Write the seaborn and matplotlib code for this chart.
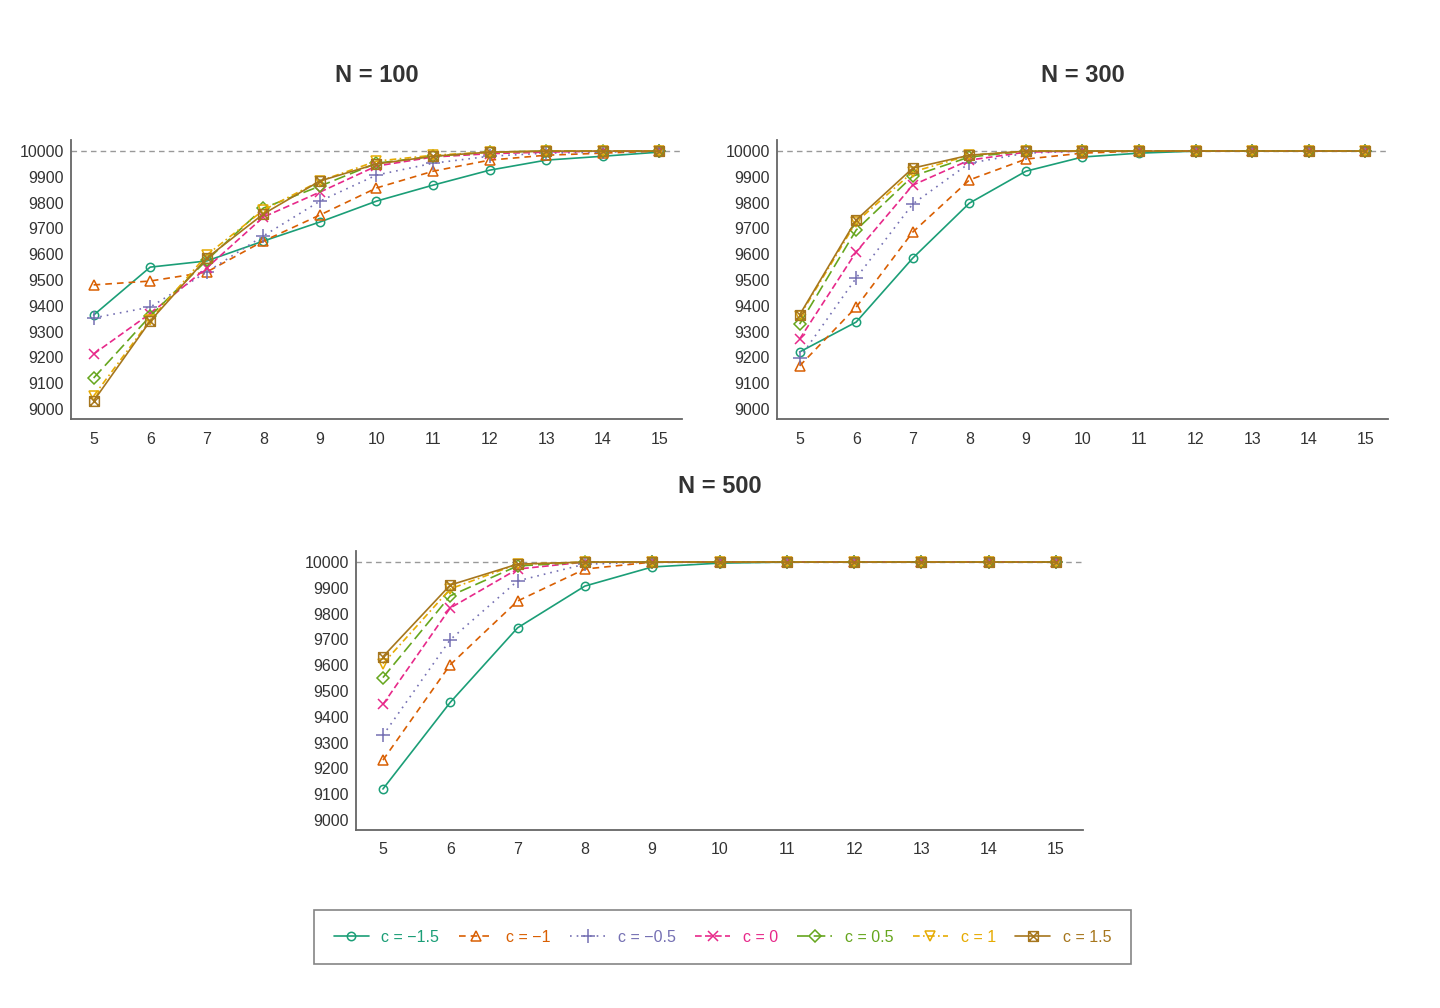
import numpy as np
import pandas as pd
import matplotlib
matplotlib.use("Agg")
import matplotlib.pyplot as plt
import seaborn as sns
from matplotlib.path import Path
from matplotlib.lines import Line2D

# Data
k_values = [5, 6, 7, 8, 9, 10, 11, 12, 13, 14, 15]
c_labels = ["c = \u22121.5", "c = \u22121", "c = \u22120.5", "c = 0", "c = 0.5", "c = 1", "c = 1.5"]

n100 = {
    "c = \u22121.5": [9364, 9550, 9574, 9651, 9725, 9806, 9868, 9926, 9965, 9980, 9996],
    "c = \u22121":   [9481, 9496, 9531, 9651, 9752, 9857, 9922, 9965, 9984, 9992, 10000],
    "c = \u22120.5": [9353, 9395, 9531, 9671, 9806, 9907, 9953, 9980, 9992, 9996, 10000],
    "c = 0":        [9213, 9370, 9547, 9744, 9841, 9942, 9977, 9990, 9996, 10000, 10000],
    "c = 0.5":      [9120, 9360, 9577, 9779, 9864, 9953, 9980, 9996, 10000, 10000, 10000],
    "c = 1":        [9050, 9345, 9597, 9771, 9884, 9961, 9984, 9996, 10000, 10000, 10000],
    "c = 1.5":      [9031, 9341, 9585, 9756, 9884, 9950, 9980, 9996, 10000, 10000, 10000],
}
n300 = {
    "c = \u22121.5": [9221, 9337, 9585, 9798, 9922, 9977, 9992, 10000, 10000, 10000, 10000],
    "c = \u22121":   [9167, 9395, 9686, 9888, 9969, 9992, 10000, 10000, 10000, 10000, 10000],
    "c = \u22120.5": [9198, 9508, 9795, 9953, 9992, 10000, 10000, 10000, 10000, 10000, 10000],
    "c = 0":        [9271, 9609, 9868, 9965, 9996, 10000, 10000, 10000, 10000, 10000, 10000],
    "c = 0.5":      [9329, 9694, 9903, 9977, 10000, 10000, 10000, 10000, 10000, 10000, 10000],
    "c = 1":        [9360, 9725, 9919, 9984, 10000, 10000, 10000, 10000, 10000, 10000, 10000],
    "c = 1.5":      [9365, 9733, 9934, 9984, 10000, 10000, 10000, 10000, 10000, 10000, 10000],
}
n500 = {
    "c = \u22121.5": [9120, 9456, 9745, 9907, 9981, 9996, 10000, 10000, 10000, 10000, 10000],
    "c = \u22121":   [9232, 9602, 9849, 9973, 10000, 10000, 10000, 10000, 10000, 10000, 10000],
    "c = \u22120.5": [9328, 9699, 9927, 9992, 10000, 10000, 10000, 10000, 10000, 10000, 10000],
    "c = 0":        [9448, 9822, 9973, 10000, 10000, 10000, 10000, 10000, 10000, 10000, 10000],
    "c = 0.5":      [9552, 9869, 9985, 10000, 10000, 10000, 10000, 10000, 10000, 10000, 10000],
    "c = 1":        [9606, 9896, 9992, 10000, 10000, 10000, 10000, 10000, 10000, 10000, 10000],
    "c = 1.5":      [9633, 9911, 9992, 10000, 10000, 10000, 10000, 10000, 10000, 10000, 10000],
}
panel_titles = ["N = 100", "N = 300", "N = 500"]

# Styles
sns.set_style("white")
plt.rcParams["font.family"] = ["Liberation Sans", "DejaVu Sans"]

colors = sns.color_palette("Dark2", 7)
boxx = Path([(-1, -1), (1, -1), (1, 1), (-1, 1), (-1, -1), (-1, -1), (1, 1), (-1, 1), (1, -1)],
            [Path.MOVETO, Path.LINETO, Path.LINETO, Path.LINETO, Path.CLOSEPOLY,
             Path.MOVETO, Path.LINETO, Path.MOVETO, Path.LINETO])
markers = ["o", "^", "+", "x", "D", "v", boxx]
msizes = [6, 7, 10, 7, 6, 7, 7]
linestyles = ["-", (0, (4, 3)), (0, (1, 3)), (0, (4, 2)), (0, (7, 3)), (0, (4, 2, 1, 2)), "-"]

fig = plt.figure(figsize=(14.4, 10.08), dpi=100)
W, H = 1440, 1008
boxes = [(71, 140, 682, 419), (777, 140, 1388, 419), (356, 551, 1083, 830)]
axes = []
for (l, t, r, b) in boxes:
    axes.append(fig.add_axes([l / W, 1 - b / H, (r - l) / W, (b - t) / H]))

for ax, data, title, (l, t, r, b) in zip(axes, [n100, n300, n500], panel_titles, boxes):
    ax.axhline(10000, color="#999999", linestyle=(0, (4, 3)), linewidth=1, zorder=1)
    for i, lab in enumerate(c_labels):
        sns.lineplot(x=k_values, y=data[lab], ax=ax, color=colors[i], marker=markers[i],
                     markersize=msizes[i], markerfacecolor="none", markeredgecolor=colors[i],
                     markeredgewidth=1.1, linestyle=linestyles[i], linewidth=1.2, zorder=3)
    ax.set_xlim(4.6, 15.4)
    ax.set_ylim(8961, 10043)
    ax.set_xticks(k_values)
    ax.set_yticks(range(9000, 10001, 100))
    for s in ["top", "right"]:
        ax.spines[s].set_visible(False)
    for s in ["left", "bottom"]:
        ax.spines[s].set_color("#666666")
        ax.spines[s].set_linewidth(1.3)
    ax.tick_params(axis="both", direction="in", length=4, color="#666666",
                   labelsize=11.5, labelcolor="#333333")
    ax.tick_params(axis="x", pad=9)
    ax.tick_params(axis="y", length=0, pad=5)
    fig.text((l + r) / 2 / W, 1 - (t - 65) / H, title, ha="center", va="center",
             fontsize=17, fontweight="bold", color="#333333")

handles = []
for i, lab in enumerate(c_labels):
    handles.append(Line2D([], [], color=colors[i], marker=markers[i], markersize=msizes[i],
                          markerfacecolor="none", markeredgecolor=colors[i], markeredgewidth=1.1,
                          linestyle=linestyles[i], linewidth=1.2))
leg = fig.legend(handles, c_labels, loc="center", bbox_to_anchor=(722.5 / W, 1 - 937 / H),
                 ncol=7, frameon=True, fancybox=False, edgecolor="#666666", fontsize=11.5,
                 handlelength=2.2, columnspacing=1.2, handletextpad=0.8,
                 borderpad=1.25, numpoints=1)
leg.get_frame().set_linewidth(1.2)
for txt, c in zip(leg.get_texts(), colors):
    txt.set_color(c)

fig.savefig("out.png", dpi=100)
